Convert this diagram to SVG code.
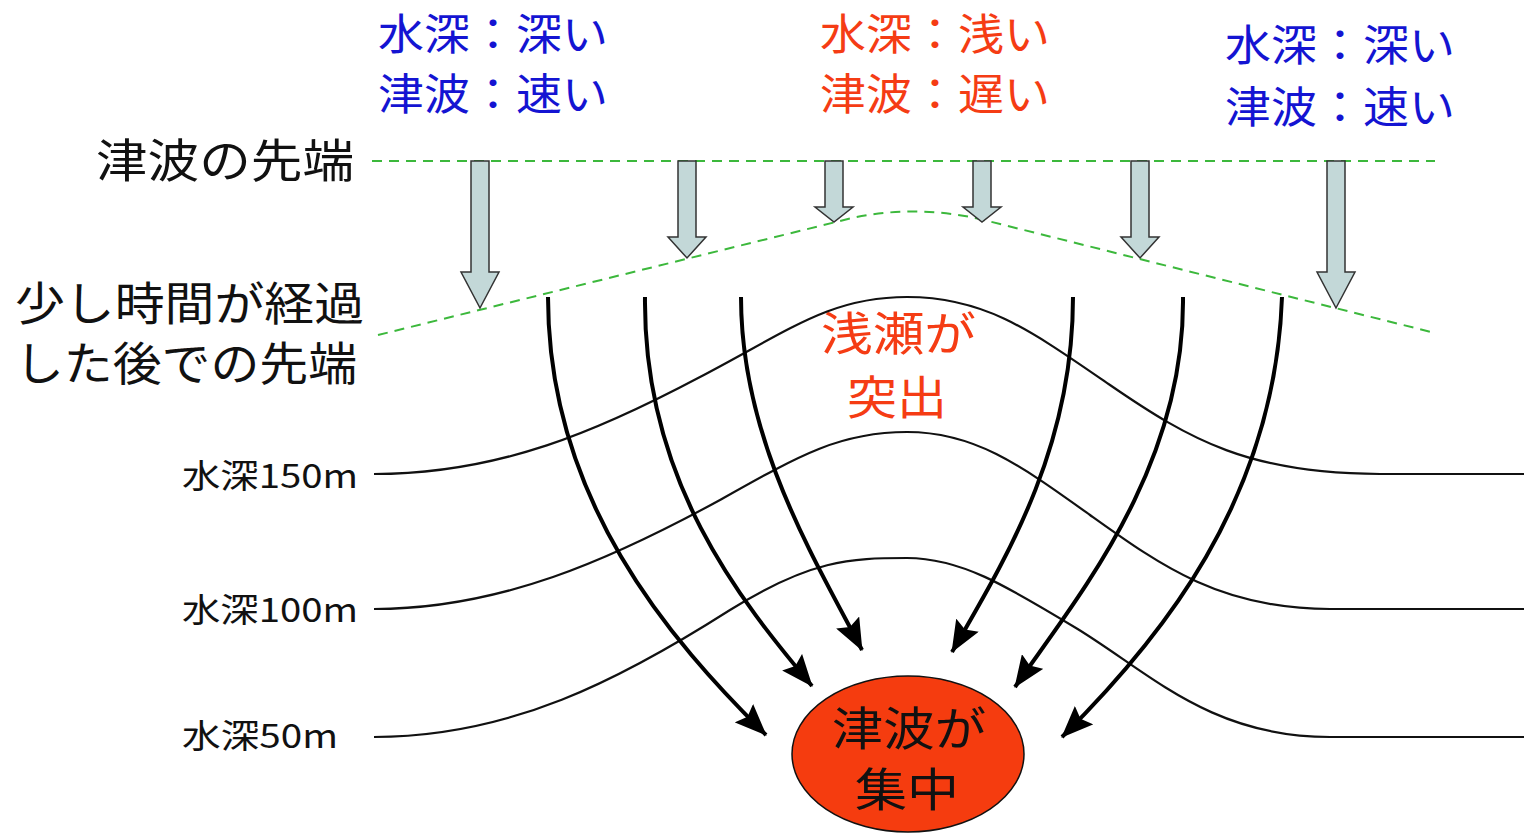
<svg xmlns="http://www.w3.org/2000/svg" width="1524" height="837" viewBox="0 0 1524 837">
<style>
text{font-family:"Noto Sans CJK JP","Noto Sans",sans-serif;}
.big{font-size:46px;}
.top{font-size:43px;}
.blue{fill:#1414d2;}
.red{fill:#f53c14;}
.blk{fill:#111;}
.depth{font-size:33px;fill:#111;}
.dash{fill:none;stroke:#3cb83c;stroke-width:2;stroke-dasharray:10 7;}
.contour{fill:none;stroke:#111;stroke-width:2.2;}
.flow{fill:none;stroke:#000;stroke-width:4;marker-end:url(#ah);}
.blockarrow{fill:#c3d8d8;stroke:#333;stroke-width:1.5;stroke-linejoin:miter;}
</style>
<defs>
<marker id="ah" markerUnits="userSpaceOnUse" viewBox="0 0 32 26" markerWidth="32" markerHeight="26" refX="31" refY="13" orient="auto">
<path d="M0,0 L32,13 L0,26 L5,13 Z" fill="#000"/>
</marker>
</defs>
<rect width="1524" height="837" fill="#fff"/>

<g id="labels">
<text class="top blue" x="378" y="50" textLength="230" lengthAdjust="spacingAndGlyphs">水深：深い</text>
<text class="top blue" x="378" y="110" textLength="230" lengthAdjust="spacingAndGlyphs">津波：速い</text>
<text class="top red" x="820" y="50" textLength="230" lengthAdjust="spacingAndGlyphs">水深：浅い</text>
<text class="top red" x="820" y="110" textLength="230" lengthAdjust="spacingAndGlyphs">津波：遅い</text>
<text class="top blue" x="1225" y="61" textLength="230" lengthAdjust="spacingAndGlyphs">水深：深い</text>
<text class="top blue" x="1225" y="123" textLength="230" lengthAdjust="spacingAndGlyphs">津波：速い</text>
<text class="big blk" x="96" y="177" textLength="258" lengthAdjust="spacingAndGlyphs">津波の先端</text>
<text class="big blk" x="15" y="320" textLength="349" lengthAdjust="spacingAndGlyphs">少し時間が経過</text>
<text class="big blk" x="15" y="380" textLength="342" lengthAdjust="spacingAndGlyphs">した後での先端</text>
<text class="big red" x="821" y="350" textLength="155" lengthAdjust="spacingAndGlyphs">浅瀬が</text>
<text class="big red" x="847" y="414" textLength="100" lengthAdjust="spacingAndGlyphs">突出</text>
<text class="depth" x="182" y="488" textLength="176" lengthAdjust="spacingAndGlyphs">水深150m</text>
<text class="depth" x="182" y="622" textLength="176" lengthAdjust="spacingAndGlyphs">水深100m</text>
<text class="depth" x="182" y="748" textLength="156" lengthAdjust="spacingAndGlyphs">水深50m</text>
</g>

<g id="wavefronts">
<path class="dash" d="M372,161 L1435,161"/>
<path class="dash" d="M378,335 L840,221 Q908,203 980,219 L1435,333"/>
</g>

<g id="contours">
<path id="c150" class="contour" d="M374,474 C500,474 600,430 700,377 C790,330 830,297 907,297 C985,297 1030,330 1110,385 C1190,440 1250,474 1380,474 L1524,474"/>
<path id="c100" class="contour" d="M374,609 C500,609 610,560 720,500 C800,455 840,432 907,432 C975,432 1020,465 1090,515 C1160,565 1220,609 1330,609 L1524,609"/>
<path id="c50" class="contour" d="M374,737 C510,737 620,680 730,610 C810,560 850,558 907,558 C960,558 1005,585 1076,628 C1150,673 1210,737 1330,737 L1524,737"/>
</g>

<g id="block-arrows">
<path id="ba1" class="blockarrow" d="M471,161 H489 V272 H499 L480,308 L461,272 H471 Z"/>
<path id="ba2" class="blockarrow" d="M678,161 H696 V237 H706 L687,258 L668,237 H678 Z"/>
<path id="ba3" class="blockarrow" d="M825,161 H843 V207 H853 L834,222 L815,207 H825 Z"/>
<path id="ba4" class="blockarrow" d="M973,161 H991 V207 H1001 L982,222 L963,207 H973 Z"/>
<path id="ba5" class="blockarrow" d="M1131,161 H1149 V237 H1159 L1140,258 L1121,237 H1131 Z"/>
<path id="ba6" class="blockarrow" d="M1327,161 H1345 V272 H1355 L1336,308 L1317,272 H1327 Z"/>
</g>

<g id="connectors">
<path class="flow" d="M548,297 C548,500 670,640 766,735"/>
<path class="flow" d="M645,297 C643,480 740,600 812,686"/>
<path class="flow" d="M741,297 C741,440 815,560 862,650"/>
<path class="flow" d="M1073,297 C1073,450 1005,560 952,652"/>
<path class="flow" d="M1183,297 C1185,470 1075,600 1015,687"/>
<path class="flow" d="M1282,297 C1275,500 1160,640 1062,737"/>
</g>

<g id="focus">
<ellipse cx="908" cy="754" rx="116" ry="78" fill="#f53c0f" stroke="#111" stroke-width="1.5"/>
<text class="big blk" x="832" y="745" textLength="154" lengthAdjust="spacingAndGlyphs">津波が</text>
<text class="big blk" x="855" y="806" textLength="104" lengthAdjust="spacingAndGlyphs">集中</text>
</g>
</svg>
